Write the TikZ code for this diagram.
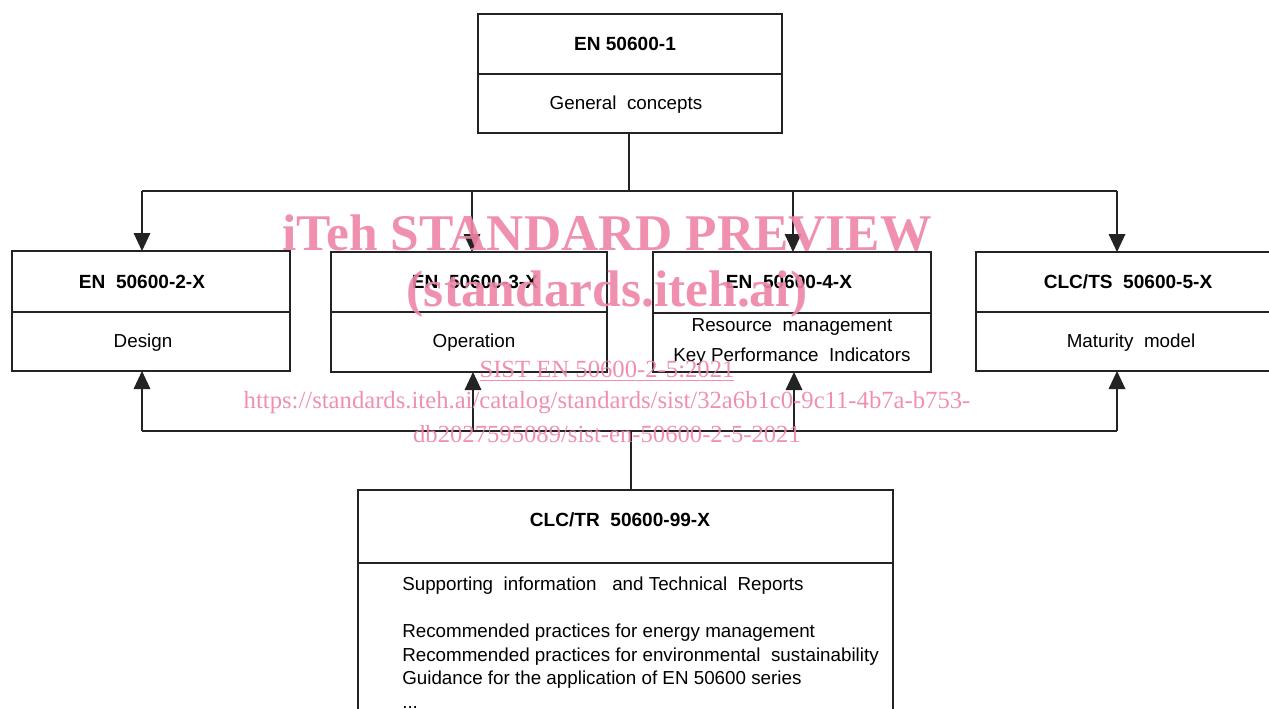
\documentclass[tikz,border=0pt]{standalone}
\usepackage{fontspec}
\setmainfont{Liberation Sans}
\newfontfamily\wmfont{Liberation Serif}
\usetikzlibrary{arrows.meta}
\definecolor{wm}{RGB}{238,134,166}
\definecolor{ln}{RGB}{35,35,35}
\def\px{0.75pt}
\begin{document}
\begin{tikzpicture}[x=0.75pt,y=-0.75pt,
 box/.style={draw=ln,line width=0.9pt,anchor=north west,inner sep=0pt,outer sep=0pt},
 txt/.style={font=\fontsize{14.1}{17.6}\selectfont,inner sep=0pt},
 hd/.style={font=\bfseries\fontsize{14.3}{17.6}\selectfont,inner sep=0pt},
 conn/.style={draw=ln,line width=0.9pt},
 arr/.style={conn,-{Triangle[width=12.5pt,length=13.5pt]}},
 wmbig/.style={font=\wmfont\bfseries\fontsize{38.6}{40}\selectfont,text=wm,inner sep=0pt,opacity=0.9},
 wmsmall/.style={font=\wmfont\fontsize{18.5}{23.6}\selectfont,text=wm,inner sep=0pt,opacity=0.9}]
\clip (0,0) rectangle (1269,708);
\fill[white] (0,0) rectangle (1269,708);

% top box
\node[box,minimum width=304*\px,minimum height=60*\px] (h0) at (478,14) {};
\node[box,minimum width=304*\px,minimum height=59*\px] (b0) at (478,74) {};
\node[hd] (h0t) at (625,44) {EN 50600-1};
\node[txt] (b0t) at (626,105) {General\ \ concepts};

% middle row
\node[box,minimum width=278*\px,minimum height=61*\px] (h1) at (12,251) {};
\node[box,minimum width=278*\px,minimum height=59*\px] (b1) at (12,312) {};
\node[hd] (h1t) at (142,282) {EN\ \ 50600-2-X};
\node[txt] (b1t) at (143,343) {Design};

\node[box,minimum width=276*\px,minimum height=60*\px] (h2) at (331,252) {};
\node[box,minimum width=276*\px,minimum height=60*\px] (b2) at (331,312) {};
\node[hd] (h2t) at (475,282) {EN\ \ 50600-3-X};
\node[txt] (b2t) at (474,343) {Operation};

\node[box,minimum width=278*\px,minimum height=61*\px] (h3) at (653,252) {};
\node[box,minimum width=278*\px,minimum height=59*\px] (b3) at (653,313) {};
\node[hd] (h3t) at (789,282) {EN\ \ 50600-4-X};
\node[txt,align=center,font=\fontsize{14.1}{22.5}\selectfont] (b3t) at (792,342) {Resource\ \ management\\Key Performance\ \ Indicators};

\node[box,minimum width=296*\px,minimum height=60*\px] (h4) at (976,252) {};
\node[box,minimum width=296*\px,minimum height=59*\px] (b4) at (976,312) {};
\node[hd] (h4t) at (1128,282) {CLC/TS\ \ 50600-5-X};
\node[txt] (b4t) at (1131,343) {Maturity\ \ model};

% bottom box
\node[box,minimum width=535*\px,minimum height=73*\px] (h5) at (358,490) {};
\node[hd] (h5t) at (620,520) {CLC/TR\ \ 50600-99-X};
\node[box,minimum width=535*\px,minimum height=180*\px] (b5) at (358,563) {};
\node[txt,anchor=north west,align=left] (b5t) at (402,577) {Supporting\ \ information\ \ \ and Technical\ \ Reports\\\mbox{}\\Recommended practices for energy management\\Recommended practices for environmental\ \ sustainability\\Guidance for the application of EN 50600 series\\...};

% top connectors
\coordinate (tj) at (629,191);
\coordinate (tl) at (142,191);
\coordinate (t2) at (472,191);
\coordinate (t3) at (793,191);
\coordinate (tr) at (1117,191);
\draw[conn] (tj |- b0.south) -- (tj);
\draw[conn] (tl) -- (tr);
\draw[arr] (tl) -- (tl |- h1.north);
\draw[arr] (t2) -- (t2 |- h2.north);
\draw[arr] (t3) -- (t3 |- h3.north);
\draw[arr] (tr) -- (tr |- h4.north);

% bottom connectors
\coordinate (bj) at (631,431);
\coordinate (bl) at (142,431);
\coordinate (b2c) at (473,431);
\coordinate (b3c) at (794,431);
\coordinate (br) at (1117,431);
\draw[conn] (bj |- h5.north) -- (bj);
\draw[conn] (bl) -- (br);
\draw[arr] (bl) -- (bl |- b1.south);
\draw[arr] (b2c) -- (b2c |- b2.south);
\draw[arr] (b3c) -- (b3c |- b3.south);
\draw[arr] (br) -- (br |- b4.south);

% watermark
\node[wmbig] (w1) at (607,233) {iTeh STANDARD PREVIEW};
\node[wmbig] (w2) at (607,294) {(standards.iteh.ai)};
\node[wmsmall] (w3) at (607,371) {\underline{SIST EN 50600-2-5:2021}};
\node[wmsmall] (w4) at (607,403) {https://standards.iteh.ai/catalog/standards/sist/32a6b1c0-9c11-4b7a-b753-};
\node[wmsmall] (w5) at (607,434) {db2027595089/sist-en-50600-2-5-2021};
\end{tikzpicture}
\end{document}
